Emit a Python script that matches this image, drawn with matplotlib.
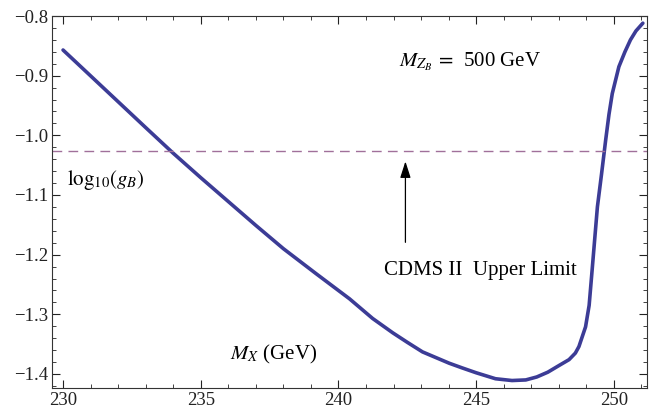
import numpy as np
import matplotlib
matplotlib.use("Agg")
import matplotlib.pyplot as plt
from matplotlib.ticker import MultipleLocator

plt.rcParams["font.family"] = ["Liberation Serif", "DejaVu Serif"]
plt.rcParams["mathtext.fontset"] = "stix"

# curve
mx = [230.0, 231.5, 233.0, 234.0, 235.0, 236.0, 237.0, 238.0, 239.19,
      240.4, 241.24, 241.97, 242.5, 243.05, 244.02, 244.5, 245.0, 245.7, 246.3,
      246.8, 247.2, 247.6, 248.0, 248.37, 248.6, 248.73, 248.97, 249.1, 249.21,
      249.4, 249.55, 249.7, 249.82, 249.94, 250.18, 250.4, 250.6, 250.8, 251.05]
log_gb = [-0.857, -0.922, -0.987, -1.030, -1.071, -1.111, -1.151, -1.190, -1.232,
          -1.274, -1.307, -1.331, -1.347, -1.363, -1.382, -1.390, -1.398, -1.408, -1.411,
          -1.410, -1.405, -1.397, -1.386, -1.376, -1.365, -1.354, -1.321, -1.285, -1.225,
          -1.120, -1.065, -1.008, -0.965, -0.930, -0.885, -0.860, -0.840, -0.825, -0.812]
cdms_limit = -1.026

fig = plt.figure(figsize=(6.52, 4.18), dpi=100)
ax = fig.add_axes([0.0798, 0.0718, 0.9125, 0.8899])

ax.plot(mx, log_gb, color="#3c3c96", lw=2.6, solid_capstyle="round", solid_joinstyle="round")
ax.axhline(cdms_limit, color="#a0709a", lw=1.0, dashes=(7, 4.5))

ax.set_xlim(229.6, 251.2)
ax.set_ylim(-1.4235, -0.8)
ax.xaxis.set_major_locator(MultipleLocator(5))
ax.xaxis.set_minor_locator(MultipleLocator(1))
ax.yaxis.set_major_locator(MultipleLocator(0.1))
ax.yaxis.set_minor_locator(MultipleLocator(0.02))
ax.yaxis.set_major_formatter(plt.FuncFormatter(lambda v, p: "\u2212%.1f" % abs(v) if v < 0 else "%.1f" % v))
ax.tick_params(which="both", direction="in", top=True, right=True, labelsize=13.5, colors="#222222")
ax.tick_params(which="major", length=6, width=0.8, pad=3)
ax.tick_params(which="minor", length=3, width=0.6)
for s in ax.spines.values():
    s.set_color("#333333")
    s.set_linewidth(0.8)

ax.text(242.2, -0.877, r"$M_{Z_B}\,=\,$ 500 GeV", fontsize=15, va="center", ha="left")
ax.text(230.15, -1.075, r"$\mathrm{log}_{10}(g_B)$", fontsize=15, va="center", ha="left")
ax.text(236.05, -1.368, r"$M_X$ (GeV)", fontsize=15, va="center", ha="left")
ax.text(245.15, -1.226, "CDMS II  Upper Limit", fontsize=15, va="center", ha="center")
ax.annotate("", xy=(242.43, -1.039), xytext=(242.43, -1.184),
            arrowprops=dict(arrowstyle="-|>,head_length=1.0,head_width=0.32", color="black", lw=0.9))

fig.savefig("out.png", dpi=100)
